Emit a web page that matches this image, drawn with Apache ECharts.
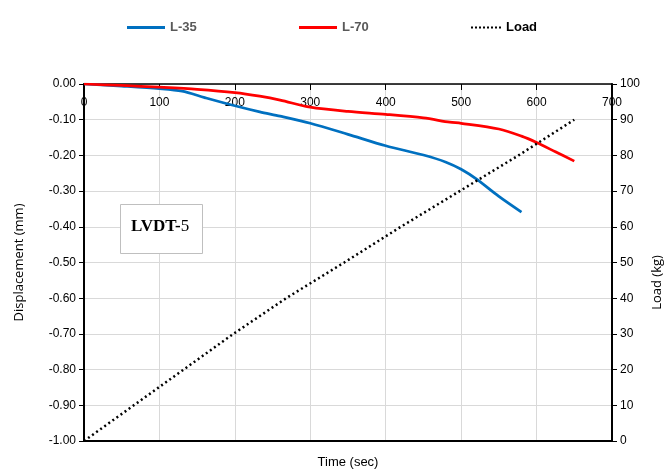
<!DOCTYPE html>
<html>
<head>
<meta charset="utf-8">
<script src="https://cdn.jsdelivr.net/npm/echarts@6/dist/echarts.min.js"></script>
<style>html,body{margin:0;padding:0;background:#fff}#c{width:665px;height:471px}</style>
</head>
<body>
<div id="c"></div>
<script>
// Data
const l35Time = [0, 50, 100, 130, 160, 200, 233, 260, 300, 350, 400, 450, 480, 500, 520, 550, 580];
const l35Disp = [0, -0.006, -0.013, -0.020, -0.038, -0.061, -0.078, -0.090, -0.110, -0.141, -0.173, -0.199, -0.219, -0.239, -0.266, -0.315, -0.359];
const l70Time = [0, 50, 100, 150, 200, 233, 260, 300, 350, 400, 450, 485, 500, 550, 580, 600, 625, 650];
const l70Disp = [0, -0.004, -0.009, -0.015, -0.024, -0.034, -0.045, -0.065, -0.077, -0.085, -0.095, -0.107, -0.110, -0.126, -0.146, -0.164, -0.190, -0.216];
const loadTime = [0, 66, 132, 198, 268, 345, 420, 498, 576, 650];
const loadKg = [0, 10, 20, 30, 40, 50, 60, 70, 80, 90];
const seriesNames = ['L-35', 'L-70', 'Load'];

const pair = (xs, ys) => xs.map((x, i) => [x, ys[i]]);
const FONT = '"Liberation Sans Narrow", "Liberation Sans", sans-serif';
const solidIcon = 'path://M0,0H38V3H0Z';
let dots = '';
for (let i = 0; i < 8; i++) dots += 'M' + (i * 4) + ',0h2v2h-2z';
const dotIcon = 'path://' + dots;

const legendText = {fontFamily: FONT, fontSize: 13, fontWeight: 'bold', color: '#595959'};
const chart = echarts.init(document.getElementById('c'), null, {renderer: 'canvas'});
chart.setOption({
  animation: false,
  backgroundColor: '#fff',
  grid: {left: 84, right: 53, top: 84, bottom: 30, containLabel: false, outerBoundsMode: 'none'},
  legend: [
    {data: [{name: seriesNames[0], icon: solidIcon}], left: 122, top: 16, itemWidth: 38, itemHeight: 3, itemGap: 5,
     textStyle: legendText},
    {data: [{name: seriesNames[1], icon: solidIcon}], left: 294, top: 16, itemWidth: 38, itemHeight: 3, itemGap: 5,
     textStyle: legendText},
    {data: [{name: seriesNames[2], icon: dotIcon}], left: 466, top: 16, itemWidth: 30, itemHeight: 2, itemGap: 7,
     textStyle: Object.assign({}, legendText, {color: '#000'})}
  ],
  xAxis: [
    {type: 'value', min: 0, max: 700, interval: 100, position: 'top',
     axisLine: {onZero: false, lineStyle: {color: '#000', width: 1.5}},
     axisTick: {inside: true, length: 6, lineStyle: {color: '#000', width: 1}},
     axisLabel: {inside: true, margin: 13, color: '#000', fontFamily: FONT, fontSize: 12},
     splitLine: {show: true, lineStyle: {color: '#d9d9d9', width: 1}}},
    {type: 'value', min: 0, max: 700, interval: 100, position: 'bottom',
     name: 'Time (sec)', nameLocation: 'middle', nameGap: 15,
     nameTextStyle: {fontFamily: FONT, fontSize: 13, color: '#000'},
     axisLine: {onZero: false, lineStyle: {color: '#000', width: 2}},
     axisTick: {show: false}, axisLabel: {show: false}, splitLine: {show: false}}
  ],
  yAxis: [
    {type: 'value', min: -1, max: 0, interval: 0.1, position: 'left',
     name: 'Displacement (mm)', nameLocation: 'middle', nameGap: 58, nameRotate: 90,
     nameTextStyle: {fontFamily: '"Open Sans", sans-serif', fontSize: 13, color: '#000'},
     axisLine: {show: true, onZero: false, lineStyle: {color: '#000', width: 2}},
     axisTick: {show: true, length: 5, lineStyle: {color: '#000'}},
     axisLabel: {margin: 8, color: '#000', fontFamily: FONT, fontSize: 12,
                 formatter: v => v.toFixed(2)},
     splitLine: {show: true, lineStyle: {color: '#d9d9d9', width: 1}}},
    {type: 'value', min: 0, max: 100, interval: 10, position: 'right',
     name: 'Load (kg)', nameLocation: 'middle', nameGap: 38, nameRotate: 90,
     nameTextStyle: {fontFamily: '"Open Sans", sans-serif', fontSize: 13, color: '#000', padding: [0, 0, 0, -40]},
     axisLine: {show: true, onZero: false, lineStyle: {color: '#000', width: 2}},
     axisTick: {show: true, length: 5, lineStyle: {color: '#000'}},
     axisLabel: {margin: 8, color: '#000', fontFamily: FONT, fontSize: 12},
     splitLine: {show: false}}
  ],
  series: [
    {name: seriesNames[0], type: 'line', xAxisIndex: 0, yAxisIndex: 0, smooth: 0.3, symbol: 'none',
     data: pair(l35Time, l35Disp), lineStyle: {color: '#0070C0', width: 2.75}, itemStyle: {color: '#0070C0'}, z: 3},
    {name: seriesNames[1], type: 'line', xAxisIndex: 0, yAxisIndex: 0, smooth: 0.3, symbol: 'none',
     data: pair(l70Time, l70Disp), lineStyle: {color: '#FF0000', width: 2.75}, itemStyle: {color: '#FF0000'}, z: 3},
    {name: seriesNames[2], type: 'line', xAxisIndex: 0, yAxisIndex: 1, smooth: false, symbol: 'none',
     data: pair(loadTime, loadKg), lineStyle: {color: '#000', width: 2.5, type: [2, 3]}, itemStyle: {color: '#000'}, z: 4}
  ],
  graphic: [
    {type: 'rect', left: 120, top: 204, shape: {width: 82, height: 49},
     style: {fill: '#fff', stroke: '#bfbfbf', lineWidth: 1}, z: 10},
    {type: 'text', left: 131, top: 218, z: 11,
     style: {text: '{b|LVDT-}{r|5}',
       rich: {b: {fontFamily: '"Liberation Serif", serif', fontSize: 17, fontWeight: 'bold', fill: '#000'},
              r: {fontFamily: '"Liberation Serif", serif', fontSize: 17, fill: '#000'}}}}
  ]
});
</script>
</body>
</html>
